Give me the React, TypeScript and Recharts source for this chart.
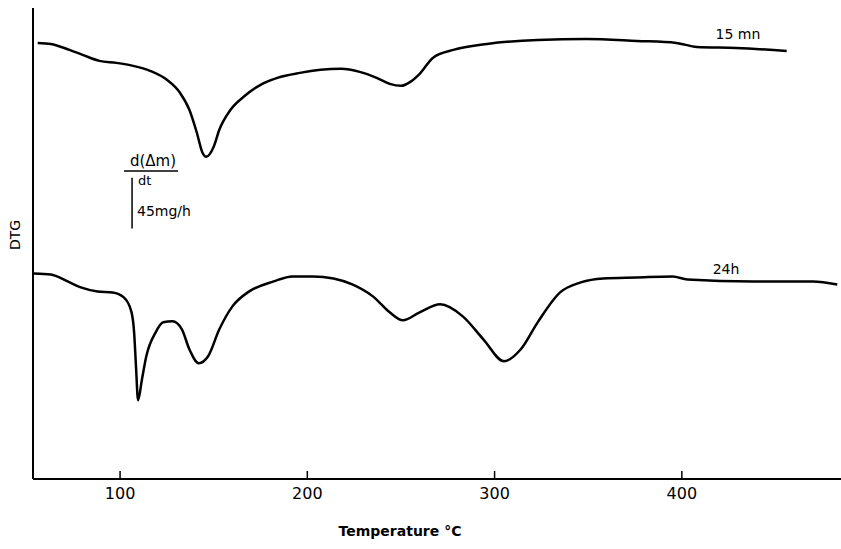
import { LineChart, Line, XAxis, YAxis, ReferenceLine, Customized } from 'recharts'

// temperature (°C) and DTG (relative units, larger = upper)
const T_15MN = [56, 63, 73, 80, 89, 98, 107, 116, 125, 132, 137, 141, 144, 146, 150, 153, 159, 166, 175, 184, 196, 207, 218, 228, 237, 244, 250, 255, 260, 267, 278, 296, 323, 349, 376, 397, 408, 429, 456]
const DTG_15MN = [437, 436, 430, 425, 419, 417, 414, 409, 400, 387, 370, 347, 327, 323, 333, 350, 370, 383, 395, 402, 407, 410, 411, 408, 402, 396, 394, 398, 406, 422, 430, 436, 440, 441, 439, 437, 433, 432, 429]

const T_24H = [54, 63, 72, 79, 88, 96, 102, 106, 107.5, 108.5, 109.6, 111.7, 114, 119, 123, 128, 133, 137, 142, 147, 153, 160, 169, 182, 192, 203, 214, 224, 235, 244, 251, 260, 271, 283, 294, 305, 314, 323, 335, 346, 358, 376, 395, 403, 438, 470, 483]
const DTG_24H = [206, 205, 198, 192, 188, 187, 182, 168, 147, 113, 79, 100, 123, 147, 157, 158, 150, 130, 116, 123, 150, 173, 188, 198, 203, 203, 201, 195, 183, 167, 159, 167, 175, 163, 140, 118, 130, 157, 187, 197, 201, 202, 203, 200, 198, 198, 195]

const X_TICKS = [100, 200, 300, 400]
const X_MIN = 53.5
const X_MAX = 485

// 45 mg/h scale bar
const BAR_T = 106.4
const BAR_TOP = 302
const BAR_LEN = 51

const data15 = T_15MN.map((t, i) => ({ t, dtg: DTG_15MN[i] }))
const data24 = T_24H.map((t, i) => ({ t, dtg: DTG_24H[i] }))

const FONT = '"DejaVu Sans", sans-serif'

const TempTick = (props: any) => {
    const { x, y, payload } = props
    return (
        <g>
            <line x1={x} y1={y} x2={x} y2={y - 8} stroke="#000" strokeWidth={1.5} />
            <text x={x} y={y + 20} textAnchor="middle" fontSize={16} fontFamily={FONT} fill="#000">
                {payload.value}
            </text>
        </g>
    )
}

const Annotations = () => (
    <g fontFamily={FONT} fill="#000">
        <text x={15} y={235} transform="rotate(-90 15 235)" textAnchor="middle" dominantBaseline="central" fontSize={14}>DTG</text>
        <text x={400} y={536} textAnchor="middle" fontSize={14} fontWeight="bold">Temperature °C</text>
        <text x={738} y={39} textAnchor="middle" fontSize={14}>15 mn</text>
        <text x={726} y={274} textAnchor="middle" fontSize={14}>24h</text>
        <text x={153} y={166} textAnchor="middle" fontSize={15}>d(Δm)</text>
        <line x1={124} y1={171} x2={178} y2={171} stroke="#000" strokeWidth={1.5} />
        <text x={138} y={185} fontSize={13}>dt</text>
        <text x={137} y={216} fontSize={14}>45mg/h</text>
    </g>
)

export default function App() {
    return (
        <div style={{ position: 'absolute', left: 0, top: 0, background: '#fff' }}>
            <LineChart width={841} height={549} margin={{ top: 8, right: 0, bottom: 30, left: 33 }}>
                <XAxis
                    dataKey="t"
                    type="number"
                    domain={[X_MIN, X_MAX]}
                    ticks={X_TICKS}
                    allowDataOverflow
                    height={40}
                    tickSize={0}
                    tickMargin={0}
                    tickLine={false}
                    axisLine={{ stroke: '#000', strokeWidth: 2 }}
                    tick={<TempTick />}
                />
                <YAxis type="number" domain={[0, 472]} hide />
                <ReferenceLine x={X_MIN} stroke="#000" strokeWidth={2} />
                <ReferenceLine
                    segment={[{ x: BAR_T, y: BAR_TOP }, { x: BAR_T, y: BAR_TOP - BAR_LEN }]}
                    stroke="#000"
                    strokeWidth={1.5}
                />
                <Line data={data15} dataKey="dtg" type="monotone" stroke="#000" strokeWidth={2.5} dot={false} isAnimationActive={false} />
                <Line data={data24} dataKey="dtg" type="monotone" stroke="#000" strokeWidth={2.5} dot={false} isAnimationActive={false} />
                <Customized component={Annotations} />
            </LineChart>
        </div>
    )
}
